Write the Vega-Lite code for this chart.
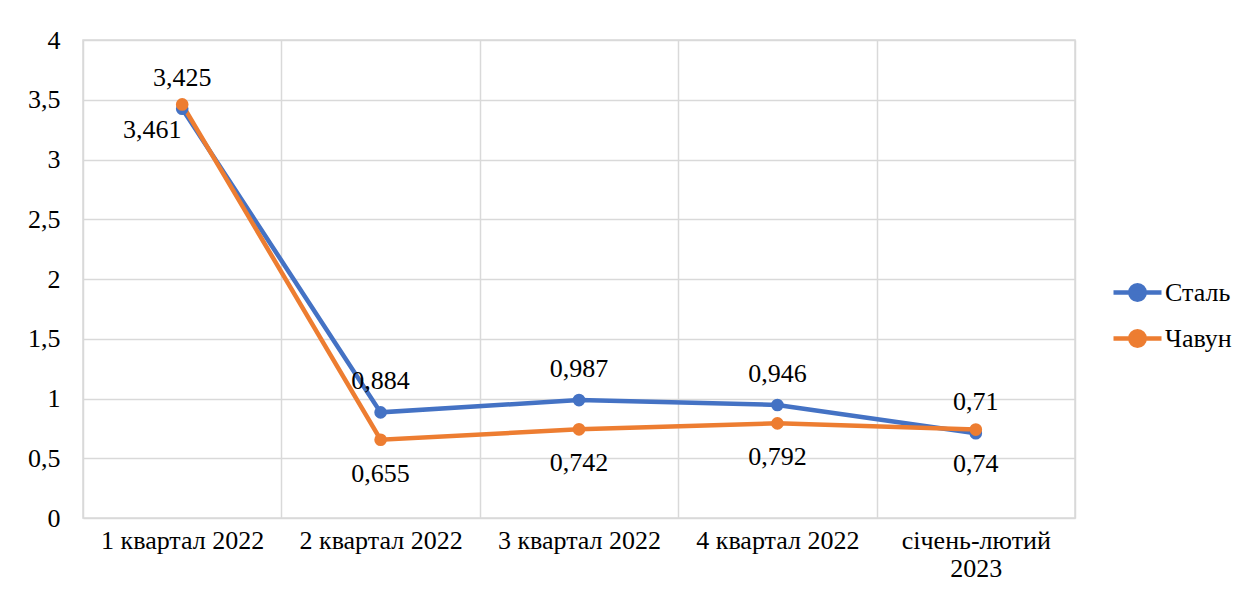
{
  "$schema": "https://vega.github.io/schema/vega-lite/v6.json",
  "width": 992,
  "height": 478,
  "autosize": {"type": "none"},
  "padding": {"left": 83, "top": 40, "right": 180, "bottom": 86},
  "background": "white",
  "config": {
    "locale": {"number": {"decimal": ",", "thousands": " ", "grouping": [3], "currency": ["", " грн"]}},
    "view": {"stroke": "#d9d9d9", "strokeWidth": 1.5},
    "font": "Liberation Serif"
  },
  "data": {
    "values": [
      {"period": "1 квартал 2022", "series": "Сталь", "value": 3.425},
      {"period": "2 квартал 2022", "series": "Сталь", "value": 0.884},
      {"period": "3 квартал 2022", "series": "Сталь", "value": 0.987},
      {"period": "4 квартал 2022", "series": "Сталь", "value": 0.946},
      {"period": "січень-лютий 2023", "series": "Сталь", "value": 0.71},
      {"period": "1 квартал 2022", "series": "Чавун", "value": 3.461},
      {"period": "2 квартал 2022", "series": "Чавун", "value": 0.655},
      {"period": "3 квартал 2022", "series": "Чавун", "value": 0.742},
      {"period": "4 квартал 2022", "series": "Чавун", "value": 0.792},
      {"period": "січень-лютий 2023", "series": "Чавун", "value": 0.74}
    ]
  },
  "encoding": {
    "x": {
      "field": "period", "type": "nominal", "sort": null, "title": null,
      "scale": {"paddingInner": 0, "paddingOuter": 0},
      "axis": {
        "grid": true, "tickBand": "extent", "gridColor": "#d9d9d9", "gridWidth": 1.5,
        "ticks": false, "domain": false, "labelAngle": 0,
        "labelFont": "Liberation Serif", "labelFontSize": 26, "labelColor": "#000000",
        "labelPadding": 9, "labelLineHeight": 28,
        "labelExpr": "datum.label == 'січень-лютий 2023' ? ['січень-лютий', '2023'] : datum.label"
      }
    },
    "y": {
      "field": "value", "type": "quantitative", "title": null,
      "scale": {"domain": [0, 4], "nice": false},
      "axis": {
        "values": [0, 0.5, 1, 1.5, 2, 2.5, 3, 3.5, 4], "format": "",
        "grid": true, "gridColor": "#d9d9d9", "gridWidth": 1.5,
        "ticks": false, "domain": false,
        "labelFont": "Liberation Serif", "labelFontSize": 26, "labelColor": "#000000",
        "labelPadding": 23
      }
    }
  },
  "layer": [
    {
      "mark": {"type": "line", "strokeWidth": 4.5, "point": {"filled": true, "size": 160}},
      "encoding": {
        "color": {
          "field": "series", "type": "nominal", "title": null,
          "scale": {"domain": ["Сталь", "Чавун"], "range": ["#4472C4", "#ED7D31"]},
          "legend": {
            "orient": "none", "legendX": 1028, "legendY": 226,
            "symbolType": "M -1 0 L 1 0 M -0.3 0 A 0.3 0.3 0 1 1 0.3 0 A 0.3 0.3 0 1 1 -0.3 0",
            "symbolSize": 2304, "symbolStrokeWidth": 4.5,
            "labelFont": "Liberation Serif", "labelFontSize": 26, "labelColor": "#000000",
            "labelOffset": 1, "rowPadding": 3
          }
        }
      }
    },
    {
      "transform": [{"filter": "datum.series == 'Сталь'"}],
      "mark": {"type": "text", "dy": -31, "fontSize": 26, "font": "Liberation Serif", "color": "#000000"},
      "encoding": {"text": {"field": "value", "type": "quantitative", "format": ""}}
    },
    {
      "transform": [{"filter": "datum.series == 'Чавун' && datum.period != '1 квартал 2022'"}],
      "mark": {"type": "text", "dy": 34, "fontSize": 26, "font": "Liberation Serif", "color": "#000000"},
      "encoding": {"text": {"field": "value", "type": "quantitative", "format": ""}}
    },
    {
      "transform": [{"filter": "datum.series == 'Чавун' && datum.period == '1 квартал 2022'"}],
      "mark": {"type": "text", "dx": -30, "dy": 26, "fontSize": 26, "font": "Liberation Serif", "color": "#000000"},
      "encoding": {"text": {"field": "value", "type": "quantitative", "format": ""}}
    }
  ]
}
